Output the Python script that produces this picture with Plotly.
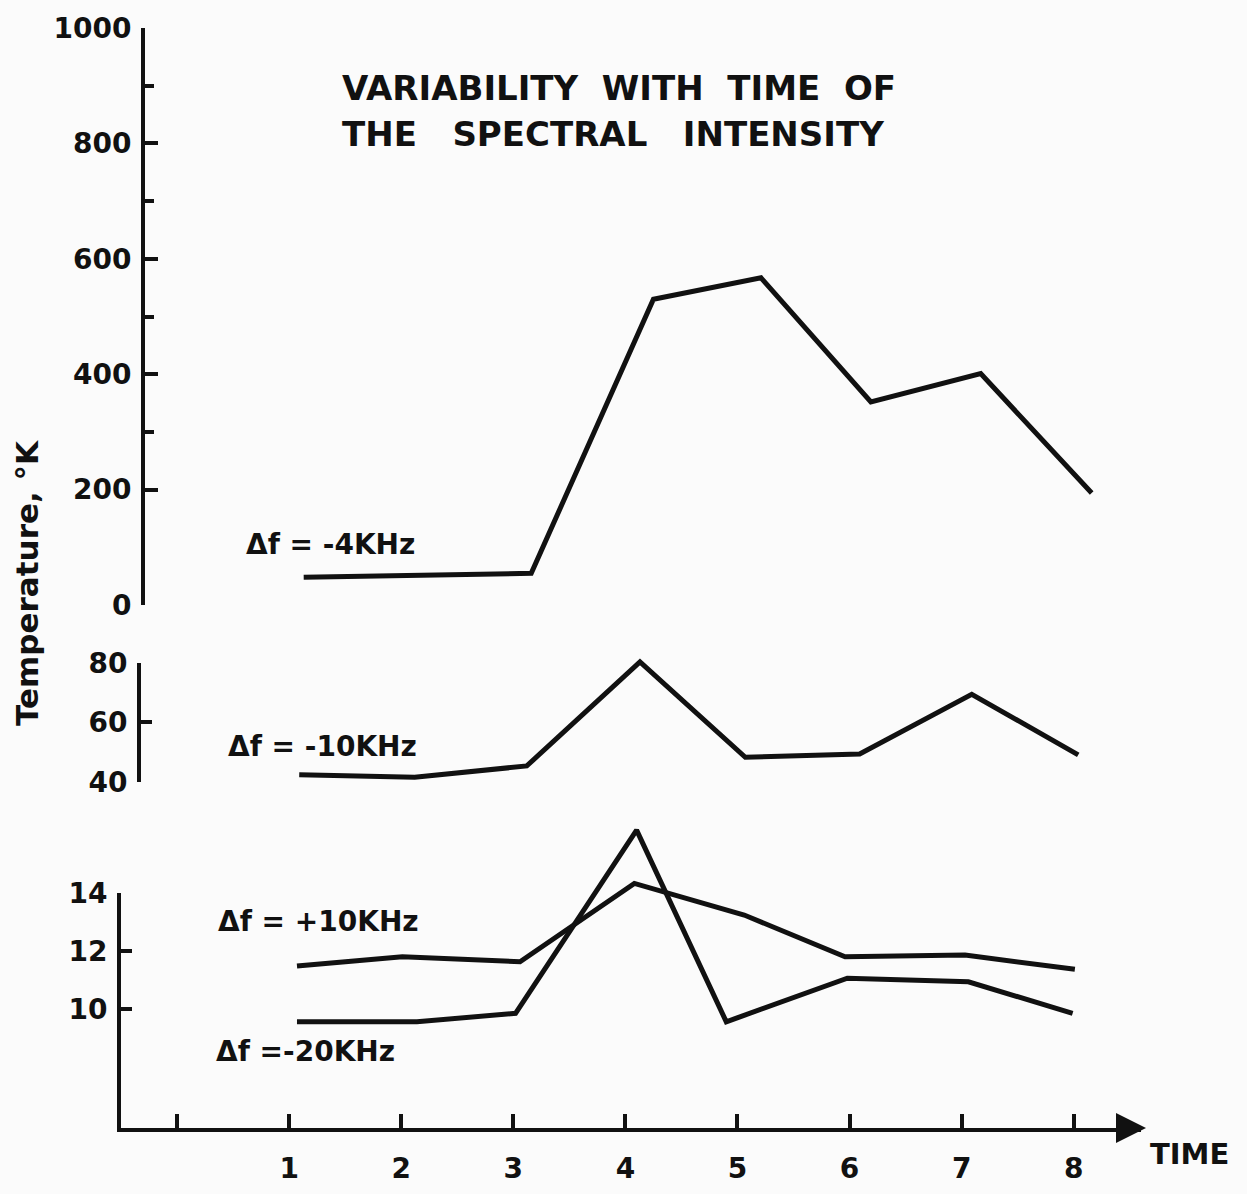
import plotly.graph_objects as go

# ---------------- data ----------------
time_m4 = [1.13, 3.16, 4.25, 5.21, 6.19, 7.17, 8.16]
temp_m4 = [48, 55, 530, 567, 352, 401, 194]

time_m10 = [1.09, 2.12, 3.12, 4.13, 5.07, 6.09, 7.09, 8.04]
temp_m10 = [42.3, 41.5, 45.3, 80.3, 48.2, 49.3, 69.4, 49.0]

time_p10 = [1.07, 2.01, 3.06, 4.08, 5.06, 5.96, 7.03, 8.01]
temp_p10 = [11.49, 11.81, 11.64, 14.34, 13.25, 11.81, 11.87, 11.38]

time_m20 = [1.07, 2.14, 3.02, 4.10, 4.90, 5.98, 7.06, 7.99]
temp_m20 = [9.57, 9.57, 9.86, 16.18, 9.57, 11.07, 10.95, 9.86]

x_tickvals = [0, 1, 2, 3, 4, 5, 6, 7, 8]
x_ticktext = ["", "1", "2", "3", "4", "5", "6", "7", "8"]
top_ticks = [0, 200, 400, 600, 800, 1000]
top_minor = [300, 500, 700, 900]
mid_ticks = [40, 60, 80]
bot_ticks = [10, 12, 14]

labels = ["Δf = -4KHz", "Δf = -10KHz", "Δf = +10KHz", "Δf =-20KHz"]

# ---------------- layout geometry ----------------
W, H = 1247, 1194
PLOT_L, PLOT_R, PLOT_T, PLOT_B = 121, 1141, 28, 1128  # wanted screen px
L = PLOT_L
T = PLOT_T
R = W - PLOT_R
B = H - PLOT_B
PH = PLOT_B - PLOT_T
PW = PLOT_R - PLOT_L


def frac(py):
    return (PLOT_B - py) / PH


def xfrac(px):
    return (px - PLOT_L) / PW


def px_lin(v, v0, p0, ppu):
    return p0 - (v - v0) * ppu


mid_ppu = 2.975
bot_ppu = 29.0
bot_min = 10 - (PLOT_B - 1009.3) / bot_ppu

FONT = "DejaVu Sans"
BLACK = "#111111"
BG = "#fbfbfb"
LW = 5

fig = go.Figure()
fig.add_trace(go.Scatter(x=time_m4, y=temp_m4, mode="lines", yaxis="y",
                         line=dict(color=BLACK, width=LW), showlegend=False))
fig.add_trace(go.Scatter(x=time_m10, y=temp_m10, mode="lines", yaxis="y2",
                         line=dict(color=BLACK, width=LW), showlegend=False))
fig.add_trace(go.Scatter(x=time_p10, y=temp_p10, mode="lines", yaxis="y3",
                         line=dict(color=BLACK, width=LW), showlegend=False))
fig.add_trace(go.Scatter(x=time_m20, y=temp_m20, mode="lines", yaxis="y3",
                         line=dict(color=BLACK, width=LW), showlegend=False))
# empty traces so that display-only axes are drawn
fig.add_trace(go.Scatter(x=[], y=[], yaxis="y4", showlegend=False))
fig.add_trace(go.Scatter(x=[], y=[], yaxis="y5", showlegend=False))

tickfont = dict(family=FONT, size=28, color=BLACK, weight="bold")

axis_common = dict(showgrid=False, zeroline=False, showline=True,
                   linecolor=BLACK, linewidth=4, ticks="inside",
                   tickcolor=BLACK, tickwidth=4, tickfont=tickfont,
                   fixedrange=True, automargin=False)

hidden_axis = dict(visible=False, fixedrange=True, automargin=False)

fig.update_layout(
    width=W, height=H,
    margin=dict(l=L, r=R, t=T, b=B, autoexpand=False),
    paper_bgcolor=BG, plot_bgcolor="rgba(0,0,0,0)",
    xaxis=dict(range=[-0.5, 8.6], domain=[0, 1], anchor="y4",
               tickmode="array", tickvals=x_tickvals, ticktext=x_ticktext,
               ticklen=14, ticklabelstandoff=12, **axis_common),
    # top panel
    yaxis=dict(range=[0, 1000],
               domain=[frac(605), frac(28)],
               anchor="free", position=xfrac(143),
               tickmode="array", tickvals=top_ticks, ticklen=13,
               ticklabelstandoff=4,
               minor=dict(tickmode="array", tickvals=top_minor, ticks="inside",
                          ticklen=9, tickwidth=4, tickcolor=BLACK),
               **axis_common),
    # middle panel (data axis, invisible, wider range)
    yaxis2=dict(range=[35, 85],
                domain=[frac(px_lin(35, 40, 781.7, mid_ppu)), frac(px_lin(85, 40, 781.7, mid_ppu))],
                anchor="free", position=xfrac(139), **hidden_axis),
    # middle panel display axis
    yaxis5=dict(range=[40, 80],
                domain=[frac(781.7), frac(662.7)],
                anchor="free", position=xfrac(139),
                tickmode="array", tickvals=mid_ticks, ticklen=11,
                ticklabelstandoff=4, **axis_common),
    # bottom panel (data axis, invisible, extends above 14)
    yaxis3=dict(range=[bot_min, 16.6],
                domain=[0, frac(px_lin(16.6, 10, 1009.3, bot_ppu))],
                anchor="x", **hidden_axis),
    # bottom display axis
    yaxis4=dict(range=[bot_min, 14],
                domain=[0, frac(893.3)],
                anchor="x",
                tickmode="array", tickvals=bot_ticks, ticklen=11,
                ticklabelstandoff=4, **axis_common),
)

title_font = dict(family=FONT, size=34, color=BLACK, weight="bold")
label_font = dict(family=FONT, size=28, color=BLACK, weight="bold")

annotations = [
    dict(text="VARIABILITY  WITH  TIME  OF", x=xfrac(340), y=frac(88),
         xref="paper", yref="paper", xanchor="left", yanchor="middle",
         showarrow=False, font=title_font),
    dict(text="THE   SPECTRAL   INTENSITY", x=xfrac(340), y=frac(134),
         xref="paper", yref="paper", xanchor="left", yanchor="middle",
         showarrow=False, font=title_font),
    dict(text="Temperature, °K", x=xfrac(27), y=frac(583),
         xref="paper", yref="paper", xanchor="center", yanchor="middle",
         textangle=-90, showarrow=False,
         font=dict(family=FONT, size=31, color=BLACK, weight="bold")),
    dict(text=labels[0], x=0.60, y=104, xref="x", yref="y",
         xanchor="left", yanchor="middle", showarrow=False, font=label_font),
    dict(text=labels[1], x=0.44, y=51.7, xref="x", yref="y5",
         xanchor="left", yanchor="middle", showarrow=False, font=label_font),
    dict(text=labels[2], x=0.35, y=13.04, xref="x", yref="y4",
         xanchor="left", yanchor="middle", showarrow=False, font=label_font),
    dict(text=labels[3], x=0.33, y=8.53, xref="x", yref="y4",
         xanchor="left", yanchor="middle", showarrow=False, font=label_font),
    # arrow head at the end of the time axis
    dict(text="", x=xfrac(1146), y=0, xref="paper", yref="paper",
         ax=-30, ay=0, axref="pixel", ayref="pixel",
         showarrow=True, arrowhead=2, arrowsize=1.5, arrowwidth=4,
         arrowcolor=BLACK),
    dict(text="TIME", x=xfrac(1148), y=0, xref="paper", yref="paper",
         xanchor="left", yanchor="middle", yshift=-26, showarrow=False,
         font=dict(family=FONT, size=29, color=BLACK, weight="bold")),
]
fig.update_layout(annotations=annotations)

post = (
    "document.documentElement.style.margin='0';"
    "document.documentElement.style.overflow='hidden';"
    "document.body.style.margin='0';"
    "document.body.style.overflow='hidden';"
    "document.body.style.background='" + BG + "';"
    "var d=document.getElementById('{plot_id}');"
    "d.style.position='fixed';d.style.top='0px';d.style.left='0px';"
)

fig.write_html("out.html", config={"displayModeBar": False}, post_script=post)
